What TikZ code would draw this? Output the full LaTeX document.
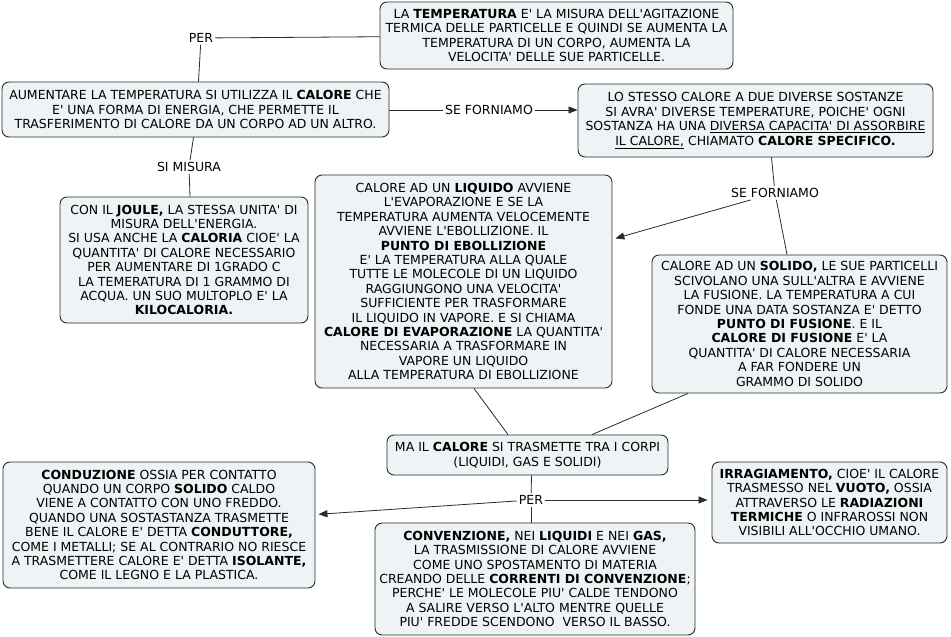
\documentclass[tikz,border=0pt]{standalone}
\usepackage{fontspec}
\setmainfont{DejaVu Sans}
\usetikzlibrary{arrows.meta,calc}
\newcommand\ap{\textquotesingle}
\definecolor{boxfill}{HTML}{EEF3F5}
\definecolor{boxline}{HTML}{2B2B2B}
\tikzset{
 concept/.style={draw=boxline, fill=boxfill, rounded corners=7pt, line width=0.9pt, align=center, inner sep=0pt, font=\fontsize{12.5}{14.4}\selectfont, text=black},
 link/.style={fill=white, inner sep=2pt, font=\fontsize{12.5}{14.4}\selectfont, text=black},
 conn/.style={draw=boxline, line width=0.8pt},
 arr/.style={conn, -{Triangle[length=9pt,width=7pt]}}
}
\begin{document}
\begin{tikzpicture}[x=1pt,y=-1pt]
\useasboundingbox (0,0) rectangle (951,637);
\fill[white] (0,0) rectangle (951,637);

\node[concept, minimum width=353, minimum height=67] (temp) at (556.5,35.5) {LA \textbf{TEMPERATURA} E\ap{} LA MISURA DELL\ap{}AGITAZIONE\\
TERMICA DELLE PARTICELLE E QUINDI SE AUMENTA LA\\
TEMPERATURA DI UN CORPO, AUMENTA LA\\
VELOCITA\ap{} DELLE SUE PARTICELLE.};

\node[concept, minimum width=387, minimum height=55] (calore) at (195.5,109.5) {AUMENTARE LA TEMPERATURA SI UTILIZZA IL \textbf{CALORE} CHE\\
E\ap{} UNA FORMA DI ENERGIA, CHE PERMETTE IL\\
TRASFERIMENTO DI CALORE DA UN CORPO AD UN ALTRO.};

\node[concept, minimum width=355, minimum height=73] (stesso) at (755.5,120.5) {LO STESSO CALORE A DUE DIVERSE SOSTANZE\\
SI AVRA\ap{} DIVERSE TEMPERATURE, POICHE\ap{} OGNI\\
SOSTANZA HA UNA \underline{DIVERSA CAPACITA\ap{} DI ASSORBIRE}\\
\underline{IL CALORE,} CHIAMATO \textbf{CALORE SPECIFICO.}};

\node[concept, minimum width=248, minimum height=126] (joule) at (184,260) {CON IL \textbf{JOULE,} LA STESSA UNITA\ap{} DI\\
MISURA DELL\ap{}ENERGIA.\\
SI USA ANCHE LA \textbf{CALORIA} CIOE\ap{} LA\\
QUANTITA\ap{} DI CALORE NECESSARIO\\
PER AUMENTARE DI 1GRADO C\\
LA TEMERATURA DI 1 GRAMMO DI\\
ACQUA. UN SUO MULTOPLO E\ap{} LA\\
\textbf{KILOCALORIA.}};

\node[concept, minimum width=297, minimum height=213] (liquido) at (463.5,281.5) {CALORE AD UN \textbf{LIQUIDO} AVVIENE\\
L\ap{}EVAPORAZIONE E SE LA\\
TEMPERATURA AUMENTA VELOCEMENTE\\
AVVIENE L\ap{}EBOLLIZIONE. IL\\
\textbf{PUNTO DI EBOLLIZIONE}\\
E\ap{} LA TEMPERATURA ALLA QUALE\\
TUTTE LE MOLECOLE DI UN LIQUIDO\\
RAGGIUNGONO UNA VELOCITA\ap{}\\
SUFFICIENTE PER TRASFORMARE\\
IL LIQUIDO IN VAPORE. E SI CHIAMA\\
\textbf{CALORE DI EVAPORAZIONE} LA QUANTITA\ap{}\\
NECESSARIA A TRASFORMARE IN\\
VAPORE UN LIQUIDO\\
ALLA TEMPERATURA DI EBOLLIZIONE};

\node[concept, minimum width=295, minimum height=138] (solido) at (799.5,324) {CALORE AD UN \textbf{SOLIDO,} LE SUE PARTICELLI\\
SCIVOLANO UNA SULL\ap{}ALTRA E AVVIENE\\
LA FUSIONE. LA TEMPERATURA A CUI\\
FONDE UNA DATA SOSTANZA E\ap{} DETTO\\
\textbf{PUNTO DI FUSIONE}. E IL\\
\textbf{CALORE DI FUSIONE} E\ap{} LA\\
QUANTITA\ap{} DI CALORE NECESSARIA\\
A FAR FONDERE UN\\
GRAMMO DI SOLIDO};

\node[concept, minimum width=281, minimum height=40] (ma) at (527.5,455) {MA IL \textbf{CALORE} SI TRASMETTE TRA I CORPI\\
(LIQUIDI, GAS E SOLIDI)};

\node[concept, minimum width=312, minimum height=126] (cond) at (159,525) {\textbf{CONDUZIONE} OSSIA PER CONTATTO\\
QUANDO UN CORPO \textbf{SOLIDO} CALDO\\
VIENE A CONTATTO CON UNO FREDDO.\\
QUANDO UNA SOSTASTANZA TRASMETTE\\
BENE IL CALORE E\ap{} DETTA \textbf{CONDUTTORE,}\\
COME I METALLI; SE AL CONTRARIO NO RIESCE\\
A TRASMETTERE CALORE E\ap{} DETTA \textbf{ISOLANTE,}\\
COME IL LEGNO E LA PLASTICA.};

\node[concept, minimum width=320, minimum height=112] (conv) at (535,579) {\textbf{CONVENZIONE,} NEI \textbf{LIQUIDI} E NEI \textbf{GAS,}\\
LA TRASMISSIONE DI CALORE AVVIENE\\
COME UNO SPOSTAMENTO DI MATERIA\\
CREANDO DELLE \textbf{CORRENTI DI CONVENZIONE};\\
PERCHE\ap{} LE MOLECOLE PIU\ap{} CALDE TENDONO\\
A SALIRE VERSO L\ap{}ALTO MENTRE QUELLE\\
PIU\ap{} FREDDE SCENDONO\ \ VERSO IL BASSO.};

\node[concept, minimum width=235, minimum height=81] (irr) at (829.5,502.5) {\textbf{IRRAGIAMENTO,} CIOE\ap{} IL CALORE\\
TRASMESSO NEL \textbf{VUOTO,} OSSIA\\
ATTRAVERSO LE \textbf{RADIAZIONI}\\
\textbf{TERMICHE} O INFRAROSSI NON\\
VISIBILI ALL\ap{}OCCHIO UMANO.};

\node[link] (per1) at (201,38) {PER};
\node[link] (simis) at (189,167) {SI MISURA};
\node[link] (sf1) at (489,110) {SE FORNIAMO};
\node[link] (sf2) at (775,193) {SE FORNIAMO};
\node[link] (per2) at (531,500) {PER};

\draw[conn] ([xshift=3]calore.north) -- (per1);
\draw[conn] (per1) -- (temp);
\draw[conn] ([xshift=-2]calore.south) -- (simis);
\draw[conn] (simis) -- ([xshift=6]joule.north);
\draw[conn] (calore.east |- sf1) -- (sf1);
\draw[arr] (sf1) -- (sf1 -| stesso.west);
\draw[conn] ([xshift=16]stesso.south) -- (sf2);
\draw[conn] (sf2) -- ([xshift=-12.5]solido.north);
\draw[arr, shorten >=3pt] (sf2) -- (liquido);
\draw[conn] ([xshift=10.5]liquido.south) -- ([xshift=-19.5]ma.north);
\draw[conn] ([xshift=-111.5]solido.south) -- ([xshift=64.5]ma.north);
\draw[conn] ([xshift=4]ma.south) -- (per2);
\draw[arr, shorten >=3pt] (per2) -- (cond);
\draw[arr, shorten >=4pt] (per2) -- (per2 -| irr.west);
\draw[conn] (per2) -- (per2 |- conv.north);
\end{tikzpicture}
\end{document}
